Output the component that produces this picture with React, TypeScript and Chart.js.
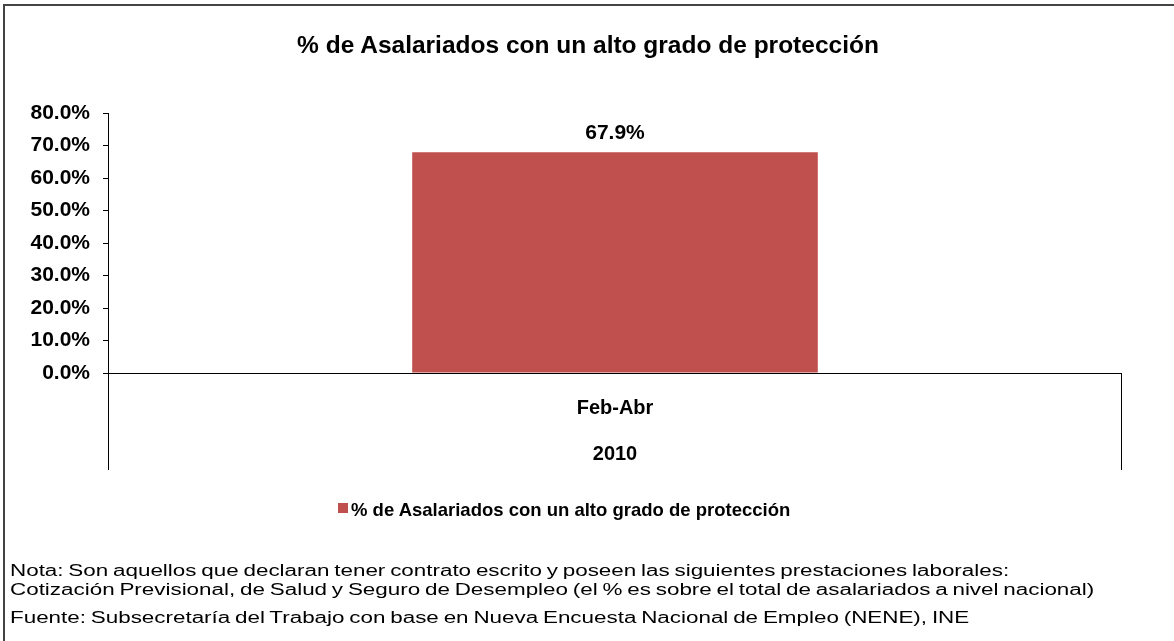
import React, { useEffect, useRef } from "react";
import { Chart, registerables } from "chart.js";

Chart.register(...registerables);

const TITLE = "% de Asalariados con un alto grado de protección";
const periods = ["Feb-Abr"];
const years = ["2010"];
const seriesName = "% de Asalariados con un alto grado de protección";
const values = [67.9];
const yTicksMin = 0;
const yTicksMax = 80;
const yStep = 10;
const noteLines = [
  "Nota: Son aquellos que declaran tener contrato escrito y poseen las siguientes prestaciones laborales:",
  "Cotización Previsional, de Salud y Seguro de Desempleo (el % es sobre el total de asalariados a nivel nacional)",
];
const sourceLine = "Fuente: Subsecretaría del Trabajo con base en Nueva Encuesta Nacional de Empleo (NENE), INE";

const BAR_COLOR = "#C0504D";
const FONT = "'Liberation Sans', Arial, sans-serif";

export default function App() {
  const ref = useRef<HTMLCanvasElement | null>(null);

  useEffect(() => {
    if (!ref.current) return;
    const labelPlugin = {
      id: "barLabels",
      afterDatasetsDraw(chart: any) {
        const ctx = chart.ctx;
        const meta = chart.getDatasetMeta(0);
        ctx.save();
        ctx.font = `bold 21px ${FONT}`;
        ctx.fillStyle = "#000";
        ctx.textAlign = "center";
        ctx.textBaseline = "middle";
        meta.data.forEach((el: any, i: number) => {
          ctx.fillText(values[i].toFixed(1) + "%", el.x, el.y - 19);
        });
        ctx.restore();
      },
      afterDraw(chart: any) {
        const ctx = chart.ctx;
        const a = chart.chartArea;
        ctx.save();
        ctx.strokeStyle = "#000";
        ctx.lineWidth = 1;
        ctx.beginPath();
        ctx.moveTo(a.left, a.bottom + 0.5);
        ctx.lineTo(a.right, a.bottom + 0.5);
        ctx.stroke();
        ctx.beginPath();
        ctx.moveTo(a.left + 0.5, a.bottom);
        ctx.lineTo(a.left + 0.5, a.bottom + 97);
        ctx.moveTo(a.right - 0.5, a.bottom);
        ctx.lineTo(a.right - 0.5, a.bottom + 97);
        ctx.stroke();
        ctx.restore();
      },
    };
    const chart = new Chart(ref.current, {
      type: "bar",
      data: {
        labels: periods.map((p, i) => [p, years[i]]),
        datasets: [
          {
            label: seriesName,
            data: values,
            backgroundColor: BAR_COLOR,
            barPercentage: 0.4,
            categoryPercentage: 1,
          },
        ],
      },
      options: {
        responsive: false,
        animation: false,
        layout: { padding: { left: 0, top: 113, right: 52, bottom: 168 } },
        plugins: {
          legend: { display: false },
          title: { display: false },
          tooltip: { enabled: false },
        },
        scales: {
          x: {
            grid: { display: false, drawTicks: false },
            border: { display: false },
            ticks: {
              color: "#000",
              font: { family: FONT, size: 20, weight: "bold", lineHeight: 2.3 },
              padding: 12,
              maxRotation: 0,
            },
            afterFit(scale: any) {
              scale.height = 100;
            },
          },
          y: {
            min: yTicksMin,
            max: yTicksMax,
            ticks: {
              stepSize: yStep,
              color: "#000",
              padding: 13,
              font: { family: FONT, size: 21, weight: "bold" },
              callback: (v: any) => Number(v).toFixed(1) + "%",
            },
            grid: { drawOnChartArea: false, drawTicks: true, tickLength: 5, color: "#000" },
            border: { display: true, color: "#000" },
            afterFit(scale: any) {
              scale.width = 108;
            },
          },
        },
      },
      plugins: [labelPlugin],
    });
    return () => chart.destroy();
  }, []);

  return (
    <div style={{ position: "absolute", left: 0, top: 0, width: 1174, height: 641, background: "#fff", overflow: "hidden", fontFamily: FONT }}>
      <div style={{ position: "absolute", left: 3, top: 4, width: 1200, height: 700, borderLeft: "2px solid #444", borderTop: "2px solid #444" }} />
      <canvas ref={ref} width={1174} height={641} style={{ position: "absolute", left: 0, top: 0, width: 1174, height: 641 }} />
      <div style={{ position: "absolute", left: 0, width: 1176, top: 31, textAlign: "center", fontWeight: "bold", fontSize: 24.5, lineHeight: "28px", color: "#000" }}>
        {TITLE}
      </div>
      <div style={{ position: "absolute", left: 338, top: 503, width: 10, height: 10, background: BAR_COLOR }} />
      <div style={{ position: "absolute", left: 351, top: 499, fontWeight: "bold", fontSize: 18.5, lineHeight: "22px", color: "#000", whiteSpace: "nowrap" }}>
        {seriesName}
      </div>
      <div style={{ position: "absolute", left: 10, top: 561, fontSize: 16, lineHeight: "19px", color: "#000", whiteSpace: "nowrap", transform: "scaleX(1.4)", transformOrigin: "0 0", wordSpacing: -1 }}>
        {noteLines.map((l, i) => (
          <div key={i}>{l}</div>
        ))}
      </div>
      <div style={{ position: "absolute", left: 10, top: 608, fontSize: 16, lineHeight: "19px", color: "#000", whiteSpace: "nowrap", transform: "scaleX(1.4)", transformOrigin: "0 0", wordSpacing: -1 }}>
        {sourceLine}
      </div>
    </div>
  );
}
